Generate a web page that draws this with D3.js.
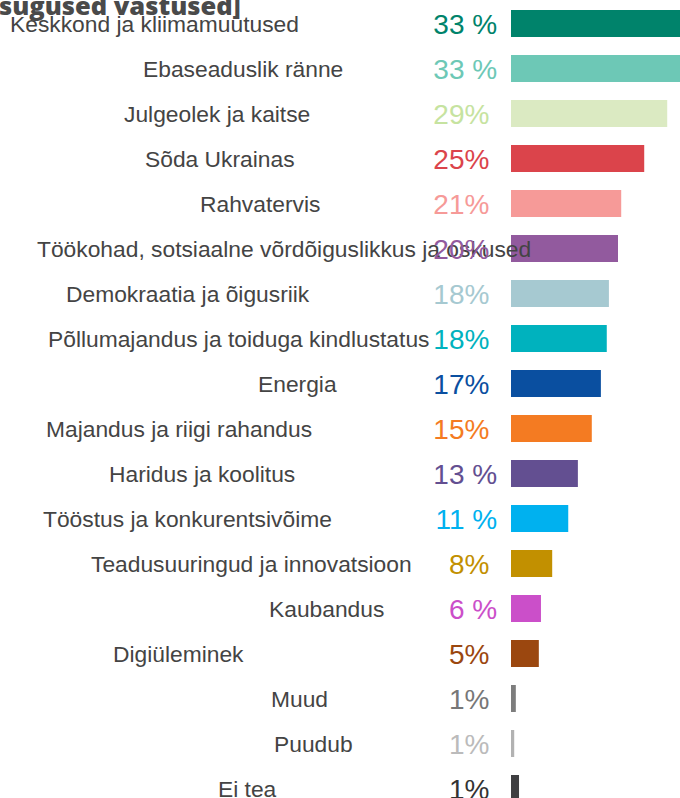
<!DOCTYPE html>
<html>
<head>
<meta charset="utf-8">
<script src="https://cdn.jsdelivr.net/npm/d3@7"></script>
<style>
  html, body { margin: 0; padding: 0; background: #fff; }
  svg { display: block; }
</style>
</head>
<body>
<svg id="chart" width="680" height="798"></svg>
<script>
const categories = [
  "Keskkond ja kliimamuutused",
  "Ebaseaduslik ränne",
  "Julgeolek ja kaitse",
  "Sõda Ukrainas",
  "Rahvatervis",
  "Töökohad, sotsiaalne võrdõiguslikkus ja oskused",
  "Demokraatia ja õigusriik",
  "Põllumajandus ja toiduga kindlustatus",
  "Energia",
  "Majandus ja riigi rahandus",
  "Haridus ja koolitus",
  "Tööstus ja konkurentsivõime",
  "Teadusuuringud ja innovatsioon",
  "Kaubandus",
  "Digiüleminek",
  "Muud",
  "Puudub",
  "Ei tea"
];

// bar lengths (percent)
const values = [33.4, 33.1, 29.2, 24.9, 20.6, 20.0, 18.3, 17.9, 16.8, 15.1, 12.5, 10.7, 7.7, 5.6, 5.2, 0.9, 0.6, 1.5];

// printed labels (number + suffix, some with a space before %)
const labelNumbers = ["33", "33", "29", "25", "21", "20", "18", "18", "17", "15", "13", "11", "8", "6", "5", "1", "1", "1"];
const labelSuffixes = [" %", " %", "%", "%", "%", "%", "%", "%", "%", "%", " %", " %", "%", " %", "%", "%", "%", "%"];

const barColors = [
  "#00836b", "#6dc8b6", "#dbeac2", "#db444b", "#f69a98", "#925a9e",
  "#a6c9d1", "#00b2be", "#0a4fa0", "#f47b22", "#634f91", "#00b1ef",
  "#c29000", "#cb4fc9", "#9b470f", "#7d7d7d", "#b2b2b2", "#3f3f41"
];
const textColors = [
  "#00836b", "#6dc8b6", "#c6e3a0", "#db444b", "#f69a98", "#925a9e",
  "#a6c9d1", "#00b2be", "#0a4fa0", "#f47b22", "#634f91", "#00b1ef",
  "#c29000", "#cb4fc9", "#9b470f", "#777777", "#bbbbbb", "#333333"
];

const title = "sugused vastused]";

// category labels are placed by hand in the original, one left edge per row
const labelX = [10, 143, 124, 145, 200, 37, 66, 48, 258, 46, 109, 43, 91, 269, 113, 271, 274, 218];

const svg = d3.select("#chart");
const rows = categories.map((c, i) => ({
  name: c,
  value: values[i],
  num: labelNumbers[i],
  suffix: labelSuffixes[i],
  color: barColors[i],
  textColor: textColors[i],
  lx: labelX[i]
}));

const x = d3.scaleLinear().domain([0, 30]).range([511, 511 + 160.5]);
const y = d3
  .scaleBand()
  .domain(categories)
  .range([1, 1 + 45 * categories.length])
  .paddingInner(0.4)
  .paddingOuter(0.2);

const barLayer = svg.append("g").attr("class", "bars");
const labelLayer = svg.append("g").attr("class", "labels");
const valueLayer = svg.append("g").attr("class", "values");

barLayer
  .selectAll("rect")
  .data(rows)
  .join("rect")
  .attr("x", x(0))
  .attr("y", (d) => y(d.name))
  .attr("width", (d) => x(d.value) - x(0))
  .attr("height", y.bandwidth())
  .attr("fill", (d) => d.color);

const mid = (d) => y(d.name) + y.bandwidth() / 2;

valueLayer
  .selectAll("text.num")
  .data(rows)
  .join("text")
  .attr("class", "num")
  .attr("x", 464.5)
  .attr("y", (d) => mid(d) + 10)
  .attr("text-anchor", "end")
  .attr("font-family", "'Liberation Sans', Arial, sans-serif")
  .attr("font-size", "28px")
  .attr("fill", (d) => d.textColor)
  .text((d) => d.num);

valueLayer
  .selectAll("text.suffix")
  .data(rows)
  .join("text")
  .attr("class", "suffix")
  .attr("x", 464.5)
  .attr("y", (d) => mid(d) + 10)
  .attr("text-anchor", "start")
  .attr("font-family", "'Liberation Sans', Arial, sans-serif")
  .attr("font-size", "28px")
  .attr("fill", (d) => d.textColor)
  .style("white-space", "pre")
  .text((d) => d.suffix);

labelLayer
  .selectAll("text")
  .data(rows)
  .join("text")
  .attr("x", (d) => d.lx)
  .attr("y", (d) => mid(d) + 8)
  .attr("font-family", "'Liberation Sans', Arial, sans-serif")
  .attr("font-size", "22.8px")
  .attr("fill", "#444444")
  .text((d) => d.name);

svg
  .append("text")
  .attr("x", -1)
  .attr("y", 15)
  .attr("font-family", "'Open Sans', sans-serif")
  .attr("font-weight", 800)
  .attr("font-size", "25.5px")
  .attr("fill", "#4a4a4a")
  .text(title);
</script>
</body>
</html>
